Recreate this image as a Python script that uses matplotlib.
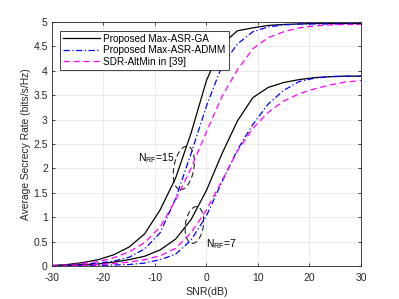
import matplotlib
matplotlib.use("Agg")
import matplotlib.pyplot as plt
import matplotlib.transforms as mtransforms
from matplotlib.patches import Ellipse

plt.rcParams["font.family"] = ["Liberation Sans", "DejaVu Sans"]
plt.rcParams["mathtext.fontset"] = "custom"
plt.rcParams["mathtext.rm"] = "Liberation Sans"
plt.rcParams["mathtext.it"] = "Liberation Sans"
plt.rcParams["axes.unicode_minus"] = False

snr_db = list(range(-30, 31, 3))

# N_RF = 15
ga_15 = [0.01, 0.03, 0.07, 0.13, 0.23, 0.39, 0.66, 1.15, 1.80, 2.72, 3.80,
         4.54, 4.82, 4.88, 4.93, 4.95, 4.96, 4.97, 4.97, 4.97, 4.97]
admm_15 = [0.00, 0.01, 0.03, 0.06, 0.10, 0.18, 0.35, 0.68, 1.38, 2.30, 3.28,
           4.10, 4.55, 4.80, 4.90, 4.94, 4.96, 4.96, 4.96, 4.96, 4.96]
sdr_15 = [0.01, 0.02, 0.05, 0.09, 0.17, 0.29, 0.48, 0.80, 1.35, 2.00, 2.75,
          3.47, 4.02, 4.45, 4.68, 4.80, 4.88, 4.92, 4.94, 4.95, 4.95]

# N_RF = 7
ga_7 = [0.00, 0.01, 0.02, 0.04, 0.08, 0.13, 0.20, 0.33, 0.55, 0.95, 1.55,
        2.30, 2.97, 3.45, 3.66, 3.76, 3.82, 3.86, 3.88, 3.89, 3.89]
admm_7 = [0.00, 0.00, 0.00, 0.01, 0.02, 0.03, 0.06, 0.13, 0.24, 0.53, 1.03,
          1.72, 2.38, 2.90, 3.32, 3.60, 3.78, 3.85, 3.88, 3.89, 3.89]
sdr_7 = [0.00, 0.00, 0.01, 0.03, 0.05, 0.08, 0.13, 0.21, 0.36, 0.68, 1.15,
         1.75, 2.35, 2.82, 3.15, 3.38, 3.53, 3.63, 3.71, 3.77, 3.80]

labels = ["Proposed Max-ASR-GA", "Proposed Max-ASR-ADMM", "SDR-AltMin in [39]"]

fig = plt.figure(figsize=(3.99, 2.99), dpi=100)
ax = fig.add_axes([0.1303, 0.1104, 0.7744, 0.816])

lw = 0.9
ax.plot(snr_db, ga_15, color="black", linewidth=lw, label=labels[0])
ax.plot(snr_db, admm_15, color="#0000ff", linewidth=lw, linestyle=(0, (5, 2, 1, 2)), label=labels[1])
ax.plot(snr_db, sdr_15, color="#ff00ff", linewidth=lw, linestyle=(0, (5, 3)), label=labels[2])
ax.plot(snr_db, ga_7, color="black", linewidth=lw)
ax.plot(snr_db, admm_7, color="#0000ff", linewidth=lw, linestyle=(0, (5, 2, 1, 2)))
ax.plot(snr_db, sdr_7, color="#ff00ff", linewidth=lw, linestyle=(0, (5, 3)))

# dashed ellipses marking the two groups of curves (size in inches)
for cx, cy, w, h, ang in [(-4.4, 2.01, 0.20, 0.44, -10), (-2.35, 0.84, 0.18, 0.37, -8)]:
    trans = fig.dpi_scale_trans + mtransforms.ScaledTranslation(cx, cy, ax.transData)
    ax.add_patch(Ellipse((0, 0), w, h, angle=ang, transform=trans, fill=False,
                         edgecolor="#222222", linewidth=0.8, linestyle=(0, (5, 3))))

ax.text(-13.3, 2.21, r"N$_{\mathrm{RF}}$=15", fontsize=7.5, va="center", ha="left")
ax.text(0.0, 0.45, r"N$_{\mathrm{RF}}$=7", fontsize=7.5, va="center", ha="left")

ax.set_xlim(-30, 30)
ax.set_ylim(0, 5)
ax.set_xticks(range(-30, 31, 10))
ax.set_yticks([i * 0.5 for i in range(11)])
ax.set_yticklabels(["0", "0.5", "1", "1.5", "2", "2.5", "3", "3.5", "4", "4.5", "5"])
ax.tick_params(labelsize=7.5, direction="in", length=2.5, width=0.6,
               top=True, right=True, colors="#262626")
ax.tick_params(axis="x", pad=5)
ax.tick_params(axis="y", pad=3)
ax.grid(True, color="#e6e6e6", linewidth=0.6)
ax.set_axisbelow(True)
for spine in ax.spines.values():
    spine.set_color("#262626")
    spine.set_linewidth(0.6)

ax.set_xlabel("SNR(dB)", fontsize=7.7, color="#262626", labelpad=3)
ax.set_ylabel("Average Secrecy Rate (bits/s/Hz)", fontsize=7.4, color="#262626", labelpad=2)

leg = ax.legend(loc="upper left", fontsize=7.2, frameon=True, fancybox=False,
                edgecolor="#262626", framealpha=1, borderpad=0.3, labelspacing=0.15,
                handlelength=3.7, handletextpad=0.3, borderaxespad=0.85)
leg.get_frame().set_linewidth(0.6)

fig.savefig("out.png", dpi=100)
